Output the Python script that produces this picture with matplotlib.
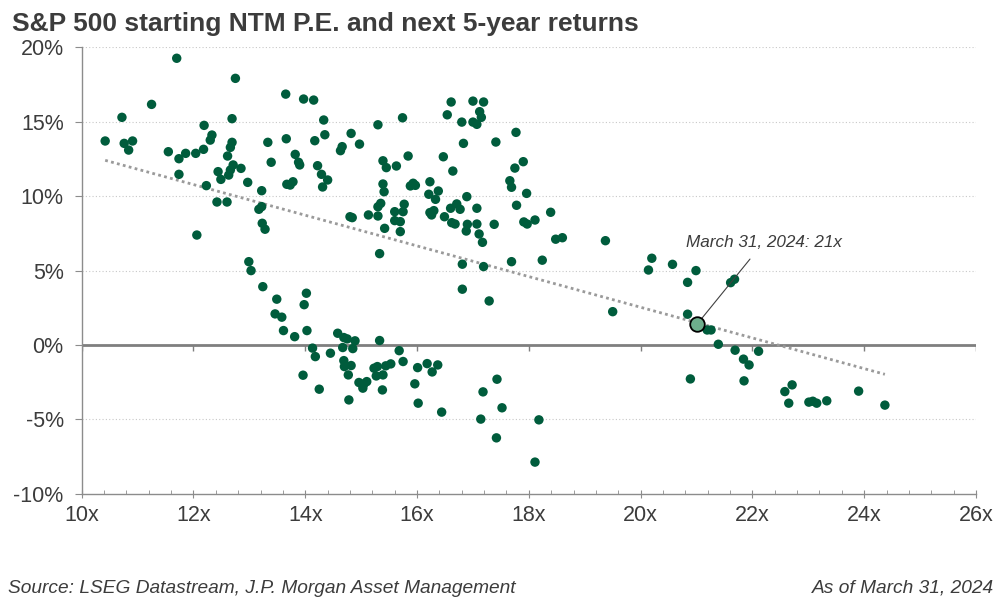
import numpy as np
import matplotlib
matplotlib.use("Agg")
from matplotlib import pyplot as plt

plt.rcParams['font.family'] = ['Liberation Sans', 'DejaVu Sans']

# starting forward P/E (x) and next 5-year annualized return in % (y)
pe = [
    11.70, 12.75, 11.25, 10.72, 10.42, 10.76, 10.91, 10.84, 11.55, 11.74,
    11.86, 12.04, 12.18, 12.19, 12.33, 12.30, 12.69, 12.69, 12.66, 12.61,
    13.33, 13.39, 12.71, 12.66, 12.85, 12.63, 12.44, 12.49, 11.74, 12.23,
    12.97, 13.22, 12.42, 12.60, 13.17, 13.22, 13.23, 13.28, 12.06, 13.65,
    13.97, 14.15, 14.33, 14.35, 14.17, 13.66, 13.82, 13.88, 13.90, 14.22,
    14.29, 14.40, 14.31, 13.67, 13.78, 13.73,
    14.82, 14.97, 14.66, 14.63, 15.30, 15.74, 15.39, 15.45, 15.63, 15.84,
    15.39, 15.41, 15.88, 15.93, 15.97, 16.23, 16.38, 16.21, 16.33, 16.47,
    16.64, 16.83, 16.54, 16.61, 17.00, 17.19, 17.12, 17.15, 16.80, 17.00,
    17.07, 17.41, 17.77, 17.90, 17.75, 17.66, 17.69, 17.96, 17.78, 17.91,
    17.97, 18.11, 18.39, 18.48, 18.60, 18.24, 17.69, 16.89, 16.71, 16.77,
    16.60, 17.07, 16.26, 16.30, 16.23, 16.49, 16.62, 16.68, 16.90, 16.88,
    17.07, 17.11, 17.17, 17.38, 15.33, 15.42, 15.70, 15.60, 15.75, 15.77,
    15.60, 15.70, 15.30, 15.13, 14.80, 14.84, 15.30, 15.35,
    12.99, 13.03, 13.24, 13.49, 14.02, 13.98, 13.46, 13.58, 13.61, 13.81,
    14.03, 14.13, 14.18, 13.96, 14.25, 14.45, 14.58, 14.69, 14.75, 14.89,
    14.67, 14.85, 14.69, 14.70, 14.82, 14.77, 14.96, 15.05, 15.10, 15.03,
    14.78, 15.33, 15.23, 15.29, 15.27, 15.39, 15.44, 15.53, 15.38, 15.68,
    15.75, 16.01, 16.18, 16.27, 16.37, 15.96, 16.02, 16.44, 16.81, 16.81,
    19.37, 19.50, 20.20, 20.14, 20.57, 20.99, 20.84, 21.61, 21.68, 20.84,
    21.19, 21.26, 21.39, 21.69, 21.84, 21.94, 22.11, 21.85, 20.89, 22.58,
    22.71, 22.65, 23.01, 23.08, 23.15, 23.33, 23.90, 24.37,
    17.19, 17.29, 17.43, 17.18, 17.52, 17.14, 18.18, 17.42, 18.11,
]
ret = [
    19.27, 17.92, 16.17, 15.30, 13.71, 13.55, 13.71, 13.10, 12.99, 12.52,
    12.88, 12.88, 13.15, 14.76, 14.11, 13.77, 15.21, 13.62, 13.28, 12.70,
    13.62, 12.28, 12.10, 11.76, 11.87, 11.42, 11.65, 11.13, 11.47, 10.71,
    10.93, 10.37, 9.61, 9.61, 9.12, 9.30, 8.18, 7.78, 7.39, 16.86,
    16.53, 16.46, 15.12, 14.13, 13.73, 13.86, 12.81, 12.28, 12.10, 12.05,
    11.47, 11.09, 10.62, 10.80, 10.97, 10.75,
    14.22, 13.50, 13.33, 13.06, 14.80, 15.27, 12.38, 11.92, 12.03, 12.70,
    10.82, 10.30, 10.69, 10.87, 10.73, 10.97, 10.35, 10.13, 9.79, 12.65,
    11.69, 13.55, 15.47, 16.33, 16.39, 16.33, 15.68, 15.30, 14.98, 14.98,
    14.83, 13.64, 14.29, 12.32, 11.89, 11.04, 10.60, 10.19, 9.39, 8.27,
    8.13, 8.40, 8.92, 7.11, 7.21, 5.70, 5.60, 9.97, 9.48, 9.12,
    9.19, 9.19, 8.74, 9.03, 8.90, 8.62, 8.22, 8.13, 8.11, 7.66,
    8.13, 7.46, 6.90, 8.11, 6.14, 7.84, 7.62, 8.96, 8.96, 9.46,
    8.36, 8.29, 8.67, 8.74, 8.62, 8.56, 9.29, 9.52,
    5.60, 5.00, 3.92, 3.08, 3.48, 2.71, 2.09, 1.87, 0.97, 0.56,
    0.97, -0.21, -0.78, -2.03, -2.97, -0.55, 0.79, 0.50, 0.41, 0.28,
    -0.17, -0.24, -1.05, -1.45, -1.38, -2.01, -2.52, -2.61, -2.46, -2.90,
    -3.69, 0.30, -1.56, -1.45, -2.08, -2.01, -1.40, -1.27, -3.02, -0.38,
    -1.11, -1.52, -1.25, -1.81, -1.34, -2.61, -3.91, -4.51, 5.43, 3.75,
    7.01, 2.24, 5.83, 5.04, 5.42, 5.00, 4.21, 4.19, 4.42, 2.07,
    1.01, 1.01, 0.05, -0.35, -0.95, -1.34, -0.42, -2.41, -2.28, -3.13,
    -2.68, -3.91, -3.84, -3.78, -3.91, -3.75, -3.10, -4.04,
    5.27, 2.96, -2.30, -3.15, -4.22, -4.98, -5.03, -6.24, -7.87,
]

# current point (March 31, 2024)
now_pe = 21.01
now_ret = 1.40

green = '#005C3C'
grey = '#3c3c3c'

fig = plt.figure(figsize=(10, 6), dpi=100)
ax = fig.add_axes([0.0817, 0.177, 0.8943, 0.744])

ax.set_xlim(10, 26)
ax.set_ylim(-10, 20)

yt = np.arange(-10, 21, 5)
ax.set_yticks(yt)
ax.set_yticklabels(['%d%%' % v for v in yt])
xt = np.arange(10, 27, 2)
ax.set_xticks(xt)
ax.set_xticklabels(['%dx' % v for v in xt])
ax.set_xticks(np.arange(10, 26.01, 0.4), minor=True)

for v in yt[1:]:
    if v != 0:
        ax.axhline(v, color='#c8c8c8', lw=0.8, ls=(0, (1, 2)), zorder=0)
ax.axhline(0, color='#7f7f7f', lw=2, zorder=1)
ax.vlines(xt, -0.4, 0, color='#7f7f7f', lw=1, zorder=1)

for s in ['top', 'right']:
    ax.spines[s].set_visible(False)
for s in ['left', 'bottom']:
    ax.spines[s].set_color('#8c8c8c')
    ax.spines[s].set_linewidth(1)

ax.tick_params(axis='y', which='major', length=5, color='#8c8c8c',
               labelsize=15.5, labelcolor=grey, pad=8)
ax.tick_params(axis='x', which='major', direction='inout', length=6,
               color='#8c8c8c', labelsize=15.5, labelcolor=grey, pad=5)
ax.tick_params(axis='x', which='minor', direction='in', length=3,
               color='#8c8c8c')

# trend line
x = np.array(pe)
y = np.array(ret)
k, b = np.polyfit(x, y, 1)
xl = np.array([x.min(), x.max()])
ax.plot(xl, k * xl + b, color='#9a9a9a', lw=2, ls=(0, (1, 1.2)), zorder=2)

ax.scatter(x, y, s=46, color=green, edgecolors='none', zorder=3)
ax.scatter([now_pe], [now_ret], s=110, color='#6DAE8C',
           edgecolors='black', linewidths=1.3, zorder=4)

ax.annotate('March 31, 2024: 21x', xy=(now_pe, now_ret),
            xytext=(22.2, 6.9), textcoords='data',
            ha='center', va='center', fontsize=12.3, style='italic',
            color=grey,
            arrowprops=dict(arrowstyle='-', color='#404040', lw=0.8,
                            shrinkA=6, shrinkB=0))

fig.text(0.012, 0.949, 'S&P 500 starting NTM P.E. and next 5-year returns',
         fontsize=19, fontweight='bold', color=grey, va='baseline')
fig.text(0.008, 0.012, 'Source: LSEG Datastream, J.P. Morgan Asset Management',
         fontsize=13.8, style='italic', color=grey, va='baseline')
fig.text(0.994, 0.012, 'As of March 31, 2024',
         fontsize=13.8, style='italic', color=grey, va='baseline', ha='right')

fig.savefig('out.png', dpi=100)
